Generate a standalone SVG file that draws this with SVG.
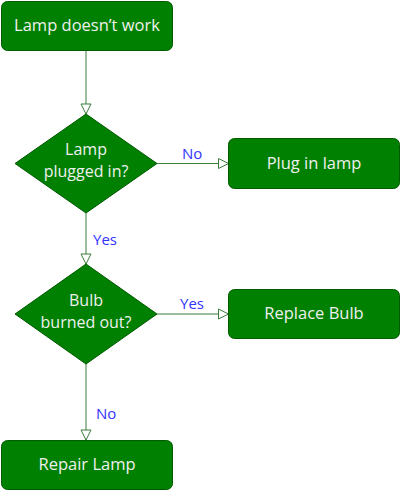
<svg xmlns="http://www.w3.org/2000/svg" width="401" height="491" viewBox="0 0 401 491">
<style>
.node{fill:#008000;stroke:#005a00;stroke-width:1}
.t{font-family:"Open Sans","Liberation Sans",sans-serif;font-size:16.5px;fill:#f0f0f0;text-anchor:middle}
.d{font-family:"Open Sans","Liberation Sans",sans-serif;font-size:16px;fill:#f0f0f0;text-anchor:middle}
.e{fill:none;stroke:#3b7d3b;stroke-width:1}
.lbl{font-family:"Open Sans","Liberation Sans",sans-serif;font-size:15px;fill:#3333ff}
</style>
<defs>
<marker id="ah" viewBox="0 0 12 12" refX="11" refY="6" markerWidth="12" markerHeight="12" markerUnits="userSpaceOnUse" orient="auto">
<path d="M1,1 L11,6 L1,11 Z" fill="#ffffff" stroke="#3b7d3b" stroke-width="1"/>
</marker>
</defs>
<g id="connectors">
<path class="e" d="M86,50.5 V114" marker-end="url(#ah)"/>
<path class="e" d="M157,163.5 H228.5" marker-end="url(#ah)"/>
<path class="e" d="M86,213 V264" marker-end="url(#ah)"/>
<path class="e" d="M157,314 H228.5" marker-end="url(#ah)"/>
<path class="e" d="M86,364 V440" marker-end="url(#ah)"/>
<text class="lbl" x="182" y="159">No</text>
<text class="lbl" x="93" y="245">Yes</text>
<text class="lbl" x="180" y="309">Yes</text>
<text class="lbl" x="96" y="419">No</text>
</g>
<g id="start">
<rect class="node" x="1.5" y="1.5" width="171" height="49" rx="6"/>
<text class="t" x="87" y="31">Lamp doesn’t work</text>
</g>
<g id="plugged">
<path class="node" d="M86,114 L157,163.5 L86,213 L15,163.5 Z"/>
<text class="d" x="86" y="155">Lamp</text>
<text class="d" x="86" y="177">plugged in?</text>
</g>
<g id="plugin">
<rect class="node" x="228.5" y="138.5" width="171" height="50" rx="6"/>
<text class="t" x="314" y="169">Plug in lamp</text>
</g>
<g id="bulb">
<path class="node" d="M86,264 L157,314 L86,364 L15,314 Z"/>
<text class="d" x="86" y="306">Bulb</text>
<text class="d" x="86" y="328">burned out?</text>
</g>
<g id="replace">
<rect class="node" x="228.5" y="289.5" width="171" height="49" rx="6"/>
<text class="t" x="314" y="319">Replace Bulb</text>
</g>
<g id="repair">
<rect class="node" x="1.5" y="440.5" width="171" height="49" rx="6"/>
<text class="t" x="87" y="470">Repair Lamp</text>
</g>
</svg>
